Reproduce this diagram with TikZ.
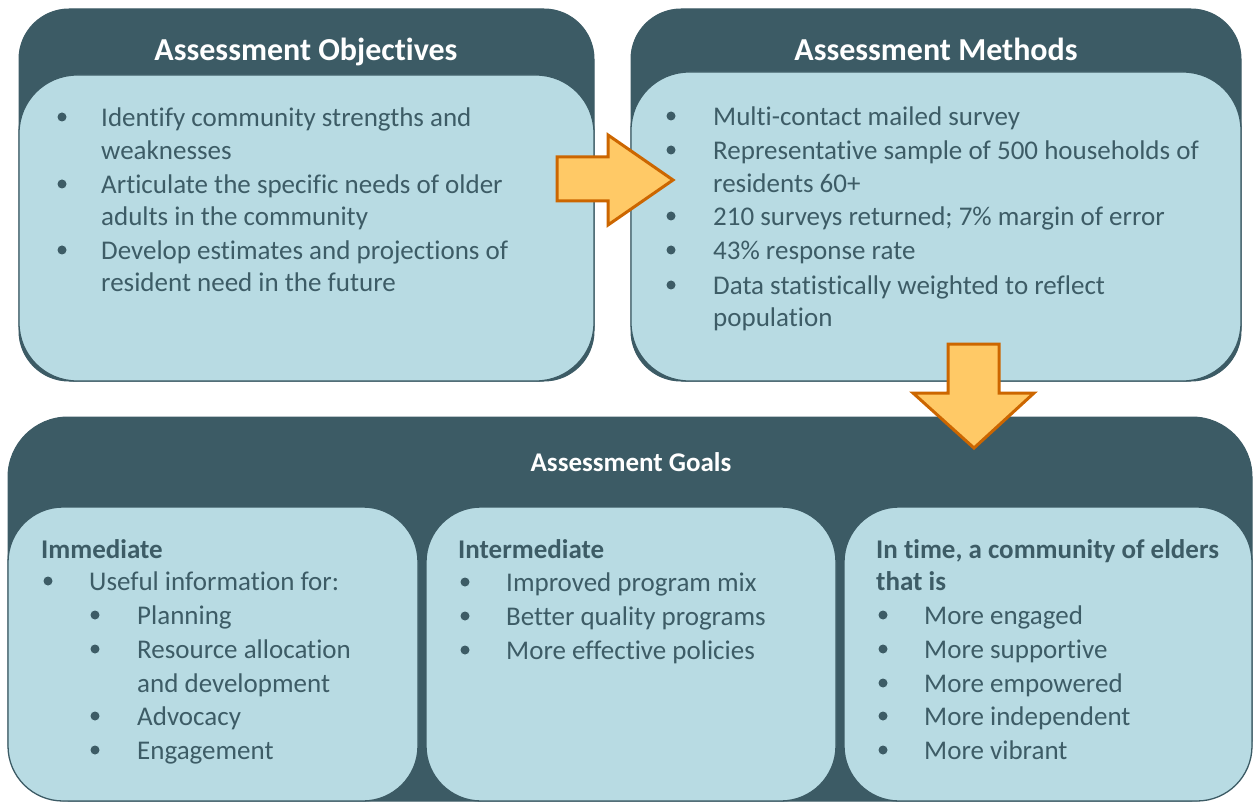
\documentclass[tikz,border=0pt]{standalone}
\usepackage{fontspec}
\setmainfont[Ligatures={NoCommon}]{Carlito}
\definecolor{dark}{HTML}{3C5B65}
\definecolor{light}{HTML}{B8DBE3}
\definecolor{txt}{HTML}{3D5C66}
\definecolor{arrfill}{HTML}{FFC966}
\definecolor{arredge}{HTML}{CC6600}
\begin{document}
\begin{tikzpicture}[x=1pt,y=-1pt,
  outerbox/.style={fill=dark, draw=dark, line width=1pt, anchor=north west, inner sep=0pt, outer sep=0pt},
  innerbox/.style={fill=light, draw=dark, line width=1.3pt, anchor=north west, inner sep=0pt, outer sep=0pt},
  titletext/.style={text=white, font=\bfseries\fontsize{32}{38}\selectfont, inner sep=0pt, anchor=base, yshift=-11pt},
  goaltitle/.style={text=white, font=\bfseries\fontsize{27}{32}\selectfont, inner sep=0pt, anchor=base, yshift=-9pt},
  body/.style={text=txt, font=\fontsize{27}{33}\selectfont, anchor=base west, inner sep=0pt, yshift=-9.5pt},
  head/.style={text=txt, font=\bfseries\fontsize{27}{33}\selectfont, anchor=base west, inner sep=0pt, yshift=-10pt},
  dot/.style={fill=txt},
  blockarrow/.style={fill=arrfill, draw=arredge, line width=3pt, line join=miter}
]
\useasboundingbox (0,0) rectangle (1253,802);

% ---------- Objectives ----------
\node[outerbox, rounded corners=50pt, minimum width=575pt, minimum height=372pt] (objOuter) at (19,9) {};
\node[innerbox, rounded corners=58pt, minimum width=575pt, minimum height=306pt] (objInner) at (19,75) {};
\node[titletext] (objTitle) at (306,50) {Assessment Objectives};
\foreach \y in {117,184,250} \fill[dot] (62,\y) circle (4.5);
\node[body] (o1) at (101,117) {Identify community strengths and};
\node[body] (o2) at (101,150) {weaknesses};
\node[body] (o3) at (101,184) {Articulate the specific needs of older};
\node[body] (o4) at (101,216) {adults in the community};
\node[body] (o5) at (101,250) {Develop estimates and projections of};
\node[body] (o6) at (101,282) {resident need in the future};

% ---------- Methods ----------
\node[outerbox, rounded corners=50pt, minimum width=610pt, minimum height=372pt] (metOuter) at (631,9) {};
\node[innerbox, rounded corners=58pt, minimum width=610pt, minimum height=309pt] (metInner) at (631,72) {};
\node[titletext] (metTitle) at (936,50) {Assessment Methods};
\foreach \y in {116,150,216,250,285} \fill[dot] (671,\y) circle (4.5);
\node[body] (m1) at (713,116) {Multi-contact mailed survey};
\node[body] (m2) at (713,150) {Representative sample of 500 households of};
\node[body] (m3) at (713,183) {residents 60+};
\node[body] (m4) at (713,216) {210 surveys returned; 7\% margin of error};
\node[body] (m5) at (713,250) {43\% response rate};
\node[body] (m6) at (713,285) {Data statistically weighted to reflect};
\node[body] (m7) at (713,317) {population};

% ---------- right arrow ----------
\draw[blockarrow] (557,157) -- (608,157) -- (608,135) -- (673,180) -- (608,225) -- (608,201) -- (557,201) -- cycle;

% ---------- Goals ----------
\node[outerbox, rounded corners=60pt, minimum width=1244pt, minimum height=384pt] (goalOuter) at (8,417) {};
\node[goaltitle] (goalTitle) at (631,462) {Assessment Goals};
\node[innerbox, rounded corners=55pt, minimum width=410pt, minimum height=294pt] (g1) at (8,507) {};
\node[innerbox, rounded corners=55pt, minimum width=410pt, minimum height=294pt] (g2) at (426,507) {};
\node[innerbox, rounded corners=55pt, minimum width=408pt, minimum height=294pt] (g3) at (844,507) {};

% Immediate
\node[head] (i0) at (41,548) {Immediate};
\fill[dot] (48,581) circle (4.5);
\node[body] (i1) at (89,581) {Useful information for:};
\foreach \y in {615,649,716,750} \fill[dot] (95,\y) circle (4.5);
\node[body] (i2) at (137,615) {Planning};
\node[body] (i3) at (137,649) {Resource allocation};
\node[body] (i4) at (137,683) {and development};
\node[body] (i5) at (137,716) {Advocacy};
\node[body] (i6) at (137,750) {Engagement};

% Intermediate
\node[head] (n0) at (458,548) {Intermediate};
\foreach \y in {582,616,650} \fill[dot] (465,\y) circle (4.5);
\node[body] (n1) at (506,582) {Improved program mix};
\node[body] (n2) at (506,616) {Better quality programs};
\node[body] (n3) at (506,650) {More effective policies};

% In time
\node[head] (t0) at (876,548) {In time, a community of elders};
\node[head] (t0b) at (876,580) {that is};
\foreach \y in {615,649,683,716,750} \fill[dot] (883,\y) circle (4.5);
\node[body] (t1) at (924,615) {More engaged};
\node[body] (t2) at (924,649) {More supportive};
\node[body] (t3) at (924,683) {More empowered};
\node[body] (t4) at (924,716) {More independent};
\node[body] (t5) at (924,750) {More vibrant};

% ---------- down arrow ----------
\draw[blockarrow] (948,344) -- (999,344) -- (999,393) -- (1034,393) -- (974,448) -- (913,393) -- (948,393) -- cycle;
\end{tikzpicture}
\end{document}
